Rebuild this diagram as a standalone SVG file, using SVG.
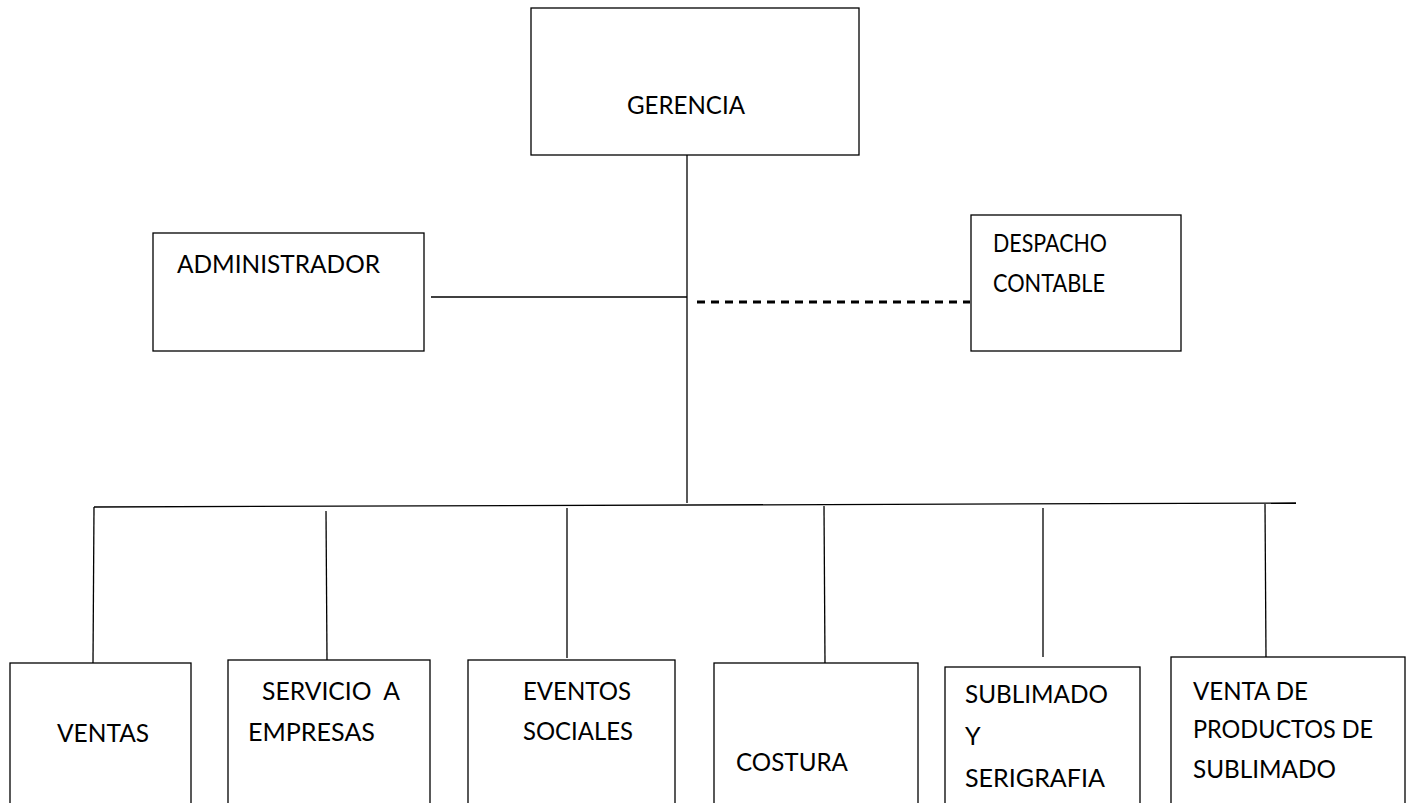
<svg xmlns="http://www.w3.org/2000/svg" width="1416" height="803" viewBox="0 0 1416 803">
<style>
.box{fill:#fff;stroke:#000;stroke-width:1.3}
.ln{stroke:#000;stroke-width:1.3;fill:none}
.dash{stroke:#000;stroke-width:3;stroke-dasharray:8 6;fill:none}
text{font-family:Lato,"Open Sans",sans-serif;font-size:25px;fill:#000}
</style>
<rect width="1416" height="803" fill="#fff"/>
<g id="connectors">
<line class="ln" x1="687" y1="155" x2="687" y2="503"/>
<line class="ln" x1="431" y1="297" x2="687" y2="297"/>
<line class="dash" x1="697" y1="302" x2="970" y2="302"/>
<line class="ln" x1="94" y1="507" x2="1296" y2="503"/>
<line class="ln" x1="94" y1="507" x2="93" y2="663"/>
<line class="ln" x1="326" y1="511" x2="327" y2="660"/>
<line class="ln" x1="567" y1="508" x2="567" y2="658"/>
<line class="ln" x1="824" y1="506" x2="825" y2="663"/>
<line class="ln" x1="1043" y1="508" x2="1043" y2="657"/>
<line class="ln" x1="1265" y1="504" x2="1266" y2="657"/>
</g>
<g id="gerencia"><rect class="box" x="531" y="8" width="328" height="147"/><text x="627" y="114" textLength="118" lengthAdjust="spacingAndGlyphs">GERENCIA</text></g>
<g id="administrador"><rect class="box" x="153" y="233" width="271" height="118"/><text x="177" y="273" textLength="203" lengthAdjust="spacingAndGlyphs">ADMINISTRADOR</text></g>
<g id="despacho"><rect class="box" x="971" y="215" width="210" height="136"/><text x="993" y="252" textLength="114" lengthAdjust="spacingAndGlyphs">DESPACHO</text><text x="993" y="292" textLength="112" lengthAdjust="spacingAndGlyphs">CONTABLE</text></g>
<g id="ventas"><rect class="box" x="10" y="663" width="181" height="150"/><text x="57" y="742" textLength="92" lengthAdjust="spacingAndGlyphs">VENTAS</text></g>
<g id="servicio"><rect class="box" x="228" y="660" width="202" height="153"/><text x="262" y="700" xml:space="preserve" textLength="138" lengthAdjust="spacingAndGlyphs">SERVICIO  A</text><text x="248" y="741" textLength="127" lengthAdjust="spacingAndGlyphs">EMPRESAS</text></g>
<g id="eventos"><rect class="box" x="468" y="660" width="207" height="153"/><text x="523" y="700" textLength="108" lengthAdjust="spacingAndGlyphs">EVENTOS</text><text x="523" y="740" textLength="110" lengthAdjust="spacingAndGlyphs">SOCIALES</text></g>
<g id="costura"><rect class="box" x="714" y="663" width="204" height="150"/><text x="736" y="771" textLength="112" lengthAdjust="spacingAndGlyphs">COSTURA</text></g>
<g id="sublimado"><rect class="box" x="945" y="667" width="195" height="146"/><text x="965" y="703" textLength="143" lengthAdjust="spacingAndGlyphs">SUBLIMADO</text><text x="965" y="745">Y</text><text x="965" y="787" textLength="140" lengthAdjust="spacingAndGlyphs">SERIGRAFIA</text></g>
<g id="venta-productos"><rect class="box" x="1171" y="657" width="234" height="156"/><text x="1193" y="700" textLength="115" lengthAdjust="spacingAndGlyphs">VENTA DE</text><text x="1193" y="738" textLength="180" lengthAdjust="spacingAndGlyphs">PRODUCTOS DE</text><text x="1193" y="778" textLength="143" lengthAdjust="spacingAndGlyphs">SUBLIMADO</text></g>
</svg>
